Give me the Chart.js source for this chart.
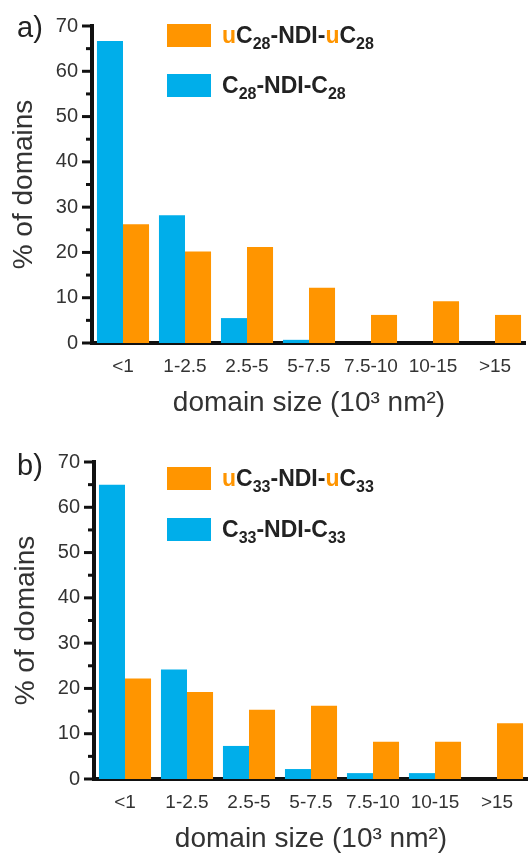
<!DOCTYPE html>
<html>
<head>
<meta charset="utf-8">
<script src="https://cdn.jsdelivr.net/npm/chart.js@4/dist/chart.umd.min.js"></script>
<style>
  html, body { margin: 0; padding: 0; background: #fff; overflow: hidden; }
  body { width: 528px; height: 853px; position: relative; font-family: "Liberation Sans", Arial, sans-serif; }
  .wrap { position: absolute; width: 528px; height: 436px; }
  .panel { position: absolute; font-size: 29px; color: #222; line-height: 1; }
  .leg { position: absolute; left: 167px; }
  .sw { position: absolute; left: 0; width: 44px; height: 23px; }
  .lt { position: absolute; left: 55px; white-space: nowrap; font-weight: bold; font-size: 23px; color: #222; line-height: 23px; }
  .lt sub { font-size: 16px; vertical-align: -6px; line-height: 0; }
  .u { color: #ff9500; }
</style>
</head>
<body>
<div class="wrap" style="left:-2px;top:0"><canvas id="chartA"></canvas></div>
<div class="wrap" style="left:0;top:436px"><canvas id="chartB"></canvas></div>

<div class="panel" style="left:17px;top:13px">a)</div>
<div class="panel" style="left:17px;top:451px">b)</div>

<div class="leg" style="top:24px">
  <div class="sw" style="top:0;background:#ff9500"></div>
  <div class="lt" style="top:0"><span class="u">u</span>C<sub>28</sub>-NDI-<span class="u">u</span>C<sub>28</sub></div>
  <div class="sw" style="top:50px;background:#00aeea"></div>
  <div class="lt" style="top:50px">C<sub>28</sub>-NDI-C<sub>28</sub></div>
</div>
<div class="leg" style="top:467px">
  <div class="sw" style="top:0;background:#ff9500"></div>
  <div class="lt" style="top:0"><span class="u">u</span>C<sub>33</sub>-NDI-<span class="u">u</span>C<sub>33</sub></div>
  <div class="sw" style="top:51px;background:#00aeea"></div>
  <div class="lt" style="top:51px">C<sub>33</sub>-NDI-C<sub>33</sub></div>
</div>

<script>
// domain size classes (10^3 nm^2)
var sizeLabels = ["<1", "1-2.5", "2.5-5", "5-7.5", "7.5-10", "10-15", ">15"];

// a) C28 series
var c28 = [66.7, 28.2, 5.5, 0.7, 0, 0, 0];
var uc28 = [26.2, 20.2, 21.2, 12.2, 6.2, 9.2, 6.2];

// b) C33 series
var c33 = [65.0, 24.2, 7.3, 2.2, 1.3, 1.3, 0];
var uc33 = [22.2, 19.2, 15.3, 16.2, 8.2, 8.2, 12.3];

var blue = "#00aeea";
var orange = "#ff9500";
var ink = "#111";
var txt = "#333";
var fontFam = "'Liberation Sans', Arial, sans-serif";

// petits traits de graduation a gauche de l'axe y (majeurs tous les 10, mineurs a 5)
var tickMarks = {
  id: "tickMarks",
  afterDraw: function (chart) {
    var y = chart.scales.y;
    var ctx = chart.ctx;
    var x0 = chart.chartArea.left - 2;
    ctx.save();
    ctx.strokeStyle = ink;
    ctx.lineWidth = 3;
    y.ticks.forEach(function (t) {
      var py = y.getPixelForValue(t.value);
      var len = t.value % 10 === 0 ? 8 : 4;
      ctx.beginPath();
      ctx.moveTo(x0 - len, py);
      ctx.lineTo(x0 + 1, py);
      ctx.stroke();
    });
    ctx.restore();
  }
};

var makeChart = function (id, cData, ucData) {
  return new Chart(document.getElementById(id), {
    type: "bar",
    data: {
      labels: sizeLabels,
      datasets: [
        { data: cData, backgroundColor: blue, borderWidth: 0 },
        { data: ucData, backgroundColor: orange, borderWidth: 0 }
      ]
    },
    options: {
      responsive: true,
      maintainAspectRatio: false,
      animation: false,
      layout: { padding: { top: 24, left: 0, right: 0, bottom: 0 } },
      datasets: { bar: { categoryPercentage: 0.84, barPercentage: 1.0 } },
      plugins: { legend: { display: false }, tooltip: { enabled: false } },
      scales: {
        x: {
          grid: { display: false, drawTicks: false },
          border: { display: true, color: ink, width: 4 },
          ticks: {
            color: txt,
            font: { family: fontFam, size: 19 },
            padding: 12,
            maxRotation: 0,
            autoSkip: false
          },
          title: {
            display: true,
            text: "domain size (10³ nm²)",
            color: txt,
            font: { family: fontFam, size: 28 },
            padding: { top: 0, bottom: 16 }
          },
          afterFit: function (scale) { scale.height = 93; }
        },
        y: {
          min: 0,
          max: 70,
          grid: { display: false, drawTicks: false },
          border: { display: true, color: ink, width: 4 },
          ticks: {
            stepSize: 5,
            autoSkip: false,
            color: txt,
            font: { family: fontFam, size: 20 },
            padding: 14,
            callback: function (v) { return v % 10 === 0 ? v : ""; }
          },
          title: {
            display: true,
            text: "% of domains",
            color: txt,
            font: { family: fontFam, size: 28 },
            padding: { top: 9, bottom: 0 }
          },
          afterFit: function (scale) { scale.width = 94; }
        }
      }
    },
    plugins: [tickMarks]
  });
};

makeChart("chartA", c28, uc28);
makeChart("chartB", c33, uc33);
</script>
</body>
</html>
